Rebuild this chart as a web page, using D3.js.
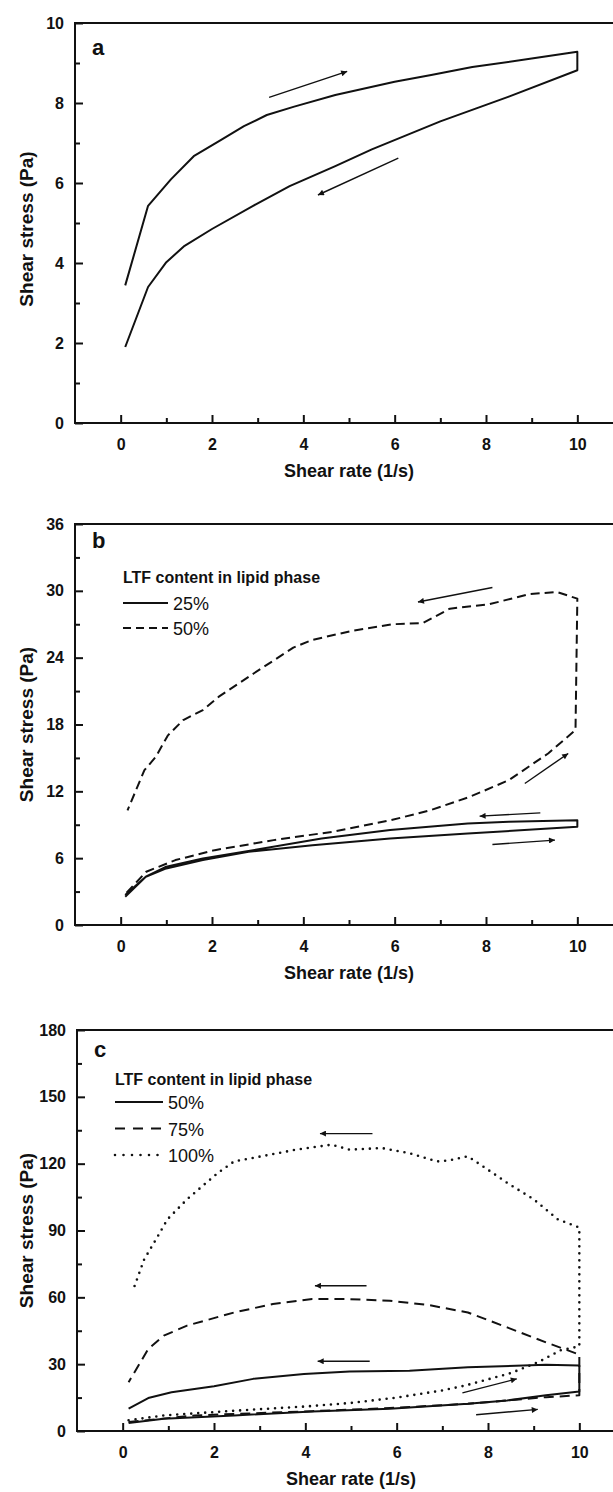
<!DOCTYPE html>
<html>
<head>
<meta charset="utf-8">
<script src="https://cdn.jsdelivr.net/npm/d3@7"></script>
<style>
body { margin: 0; background: #fff; }
svg { display: block; font-family: "Liberation Sans", Arial, sans-serif; }
</style>
</head>
<body>
<svg width="613" height="1492"></svg>
<script>
// ---- data ----
// panel a : one hysteresis loop (up curve, then back down)
var aRate   = [0.1, 0.6, 1.1, 1.6, 2.2, 2.7, 3.2, 3.8, 4.7, 6.0, 6.8, 7.7, 9.0, 10, 10, 8.5, 7.0, 5.5, 4.7, 3.7, 2.9, 2.0, 1.4, 1.0, 0.6, 0.1];
var aStress = [3.44, 5.43, 6.09, 6.67, 7.08, 7.42, 7.7, 7.91, 8.2, 8.53, 8.7, 8.9, 9.11, 9.28, 8.82, 8.16, 7.54, 6.84, 6.42, 5.92, 5.43, 4.85, 4.43, 4.02, 3.4, 1.9];
var aArrows = [[3.25, 8.14, 4.96, 8.79], [6.08, 6.62, 4.32, 5.7]];

// panel b : 25% and 50% LTF
var b25Rate   = [0.1, 0.55, 1.0, 1.8, 2.8, 4.2, 5.9, 7.6, 10, 10, 8.5, 7.6, 5.9, 4.4, 2.9, 1.8, 1.0, 0.55, 0.1];
var b25Stress = [2.54, 4.33, 5.08, 5.83, 6.57, 7.17, 7.77, 8.22, 8.81, 9.41, 9.26, 9.11, 8.52, 7.77, 6.72, 5.98, 5.23, 4.33, 2.69];
var b50Rate   = [0.13, 0.56, 1.2, 2.06, 3.35, 4.64, 5.92, 6.78, 7.64, 8.5, 9.36, 9.96, 10, 9.55, 8.95, 8.07, 7.21, 6.61, 5.95, 5.06, 4.2, 3.78, 3.35, 2.92, 2.15, 1.8, 1.37, 1.03, 0.77, 0.52, 0.15];
var b50Stress = [2.9, 4.78, 5.83, 6.72, 7.62, 8.37, 9.41, 10.3, 11.5, 13.0, 15.4, 17.5, 29.3, 29.9, 29.7, 28.8, 28.4, 27.1, 27.0, 26.4, 25.6, 24.9, 23.75, 22.6, 20.5, 19.3, 18.4, 17.0, 15.1, 13.9, 10.3];
var bArrows = [[8.14, 30.3, 6.51, 29.0], [8.85, 12.7, 9.8, 15.4], [9.19, 10.07, 7.86, 9.77], [8.14, 7.23, 9.51, 7.62]];

// panel c : 50%, 75% and 100% LTF
var c50Rate    = [0.13, 0.9, 2.44, 4.15, 5.85, 7.56, 8.42, 9.27, 10, 10, 9.27, 7.56, 6.28, 4.97, 3.97, 2.86, 2.0, 1.07, 0.56, 0.13];
var c50Stress  = [3.6, 5.5, 7.0, 8.8, 10.0, 12.2, 13.7, 16.0, 17.7, 29.4, 29.7, 28.6, 27.1, 26.7, 25.6, 23.4, 20.1, 17.4, 14.8, 10.0];
var c75Rate    = [0.13, 1.58, 4.15, 5.85, 7.56, 9.27, 10, 10, 9.27, 8.42, 7.56, 6.71, 5.85, 4.97, 4.15, 3.29, 2.44, 1.41, 0.9, 0.56, 0.13];
var c75Stress  = [4.0, 7.0, 8.9, 10.3, 12.2, 15.2, 16.0, 34.3, 39.8, 46.5, 53.2, 56.5, 58.5, 59.2, 59.2, 57.0, 53.2, 47.3, 42.8, 36.8, 21.9];
var c100Rate   = [0.13, 0.9, 2.0, 3.0, 4.0, 5.0, 6.0, 7.0, 7.5, 8.5, 9.1, 9.6, 10, 10, 9.53, 9.0, 8.42, 7.99, 7.56, 7.14, 6.88, 6.28, 5.68, 4.97, 4.57, 3.8, 2.86, 2.44, 2.09, 1.75, 1.41, 0.98, 0.73, 0.47, 0.21];
var c100Stress = [4.8, 7.0, 8.5, 9.8, 11.0, 12.6, 15.0, 18.2, 20.4, 26, 30.9, 36.3, 38, 91.3, 95, 104, 111.4, 117.4, 123.3, 121.4, 121, 124.7, 127, 126.3, 128.5, 126.3, 122.6, 121, 115.9, 110, 104, 95, 86, 77, 62.2];
var cArrows = [[5.47, 133.5, 4.32, 133.5], [5.34, 65.2, 4.21, 65.2], [5.41, 31.3, 4.27, 31.3], [7.44, 17.1, 8.63, 23.4], [7.74, 7.3, 9.09, 9.7]];

var xTicks = [0, 2, 4, 6, 8, 10];
var xMinor = [1, 3, 5, 7, 9];

var svg = d3.select('svg');
var ink = '#111';

svg.append('defs').append('marker')
    .attr('id', 'head')
    .attr('viewBox', '0 0 10 10')
    .attr('refX', 10).attr('refY', 5)
    .attr('markerWidth', 10).attr('markerHeight', 6)
    .attr('markerUnits', 'userSpaceOnUse')
    .attr('orient', 'auto')
  .append('path')
    .attr('d', 'M0,0L10,5L0,10z')
    .attr('fill', ink);

function drawPanel(p) {
  var x = d3.scaleLinear().domain([-1, 11]).range([p.left, p.left + 548]);
  var y = d3.scaleLinear().domain([0, p.yMax]).range([p.bottom, p.top]);
  var g = svg.append('g');

  // frame
  g.append('rect')
      .attr('x', x(-1)).attr('y', y(p.yMax))
      .attr('width', x(11) - x(-1)).attr('height', y(0) - y(p.yMax))
      .attr('fill', 'none').attr('stroke', ink).attr('stroke-width', 2);

  // y axis, ticks point inward
  g.append('g').attr('transform', `translate(${x(-1)},0)`)
      .call(d3.axisLeft(y).tickValues(p.yTicks).tickSize(-8).tickPadding(11));
  g.append('g').attr('transform', `translate(${x(-1)},0)`)
      .call(d3.axisLeft(y).tickValues(p.yMinor).tickSize(-5).tickFormat(''));

  // x axis
  g.append('g').attr('transform', `translate(0,${y(0)})`)
      .call(d3.axisBottom(x).tickValues(xTicks).tickSize(-8).tickPadding(16));
  g.append('g').attr('transform', `translate(0,${y(0)})`)
      .call(d3.axisBottom(x).tickValues(xMinor).tickSize(-5).tickFormat(''));

  g.selectAll('.domain').remove();
  g.selectAll('.tick line').attr('stroke', ink).attr('stroke-width', 2);
  g.selectAll('.tick text')
      .attr('fill', ink)
      .attr('font-size', 16)
      .attr('font-weight', 'bold')
      .attr('font-family', '"Liberation Sans", Arial, sans-serif');

  // axis titles
  g.append('text')
      .attr('x', (x(0) + x(10)) / 2).attr('y', p.bottom + 54)
      .attr('text-anchor', 'middle')
      .attr('font-size', 18).attr('font-weight', 'bold').attr('fill', ink)
      .text('Shear rate (1/s)');
  g.append('text')
      .attr('transform', `translate(33,${(p.top + p.bottom) / 2 + p.titleShift}) rotate(-90)`)
      .attr('text-anchor', 'middle')
      .attr('font-size', 19).attr('font-weight', 'bold').attr('fill', ink)
      .text('Shear stress (Pa)');

  // panel letter
  g.append('text')
      .attr('x', p.left + 17).attr('y', p.top + p.letterDy)
      .attr('font-size', 22).attr('font-weight', 'bold').attr('fill', ink)
      .text(p.letter);

  // curves
  var line = d3.line().x(d => x(d[0])).y(d => y(d[1]));
  p.series.forEach(s => {
    g.append('path')
        .datum(d3.zip(s.rate, s.stress))
        .attr('d', line)
        .attr('fill', 'none')
        .attr('stroke', ink)
        .attr('stroke-width', s.dots ? 2.6 : 2)
        .attr('stroke-linecap', s.dots ? 'round' : 'butt')
        .attr('stroke-linejoin', 'round')
        .attr('stroke-dasharray', s.dash);
  });

  // direction arrows
  g.selectAll('.arrow')
    .data(p.arrows)
    .enter().append('line')
      .attr('x1', d => x(d[0])).attr('y1', d => y(d[1]))
      .attr('x2', d => x(d[2])).attr('y2', d => y(d[3]))
      .attr('stroke', ink).attr('stroke-width', 1.4)
      .attr('marker-end', 'url(#head)');

  // legend
  if (p.legend) {
    var L = p.legend;
    g.append('text')
        .attr('x', L.x).attr('y', L.y)
        .attr('font-size', 16).attr('font-weight', 'bold').attr('fill', ink)
        .text('LTF content in lipid phase');
    p.series.forEach((s, i) => {
      var ly = L.y + L.first + i * L.step;
      g.append('line')
          .attr('x1', L.x).attr('x2', L.x + L.len)
          .attr('y1', ly).attr('y2', ly)
          .attr('stroke', ink)
          .attr('stroke-width', s.dots ? 2.6 : 2)
          .attr('stroke-linecap', s.dots ? 'round' : 'butt')
          .attr('stroke-dasharray', s.legendDash || s.dash);
      g.append('text')
          .attr('x', L.x + L.len + 5).attr('y', ly + 7)
          .attr('font-size', 18).attr('fill', ink)
          .text(s.label);
    });
  }
}

drawPanel({
  letter: 'a', left: 75, top: 23, bottom: 423, yMax: 10, letterDy: 32, titleShift: 6,
  yTicks: [0, 2, 4, 6, 8, 10], yMinor: [1, 3, 5, 7, 9],
  series: [{rate: aRate, stress: aStress, dash: null}],
  arrows: aArrows
});

drawPanel({
  letter: 'b', left: 75, top: 524, bottom: 925, yMax: 36, letterDy: 24, titleShift: 0,
  yTicks: [0, 6, 12, 18, 24, 30, 36], yMinor: [3, 9, 15, 21, 27, 33],
  series: [
    {rate: b25Rate, stress: b25Stress, dash: null, label: '25%'},
    {rate: b50Rate, stress: b50Stress, dash: '9,5', legendDash: '8,5', label: '50%'}
  ],
  arrows: bArrows,
  legend: {x: 123, y: 583, first: 20, step: 25, len: 45}
});

drawPanel({
  letter: 'c', left: 77, top: 1030, bottom: 1431, yMax: 180, letterDy: 27, titleShift: 0,
  yTicks: [0, 30, 60, 90, 120, 150, 180], yMinor: [15, 45, 75, 105, 135, 165],
  series: [
    {rate: c50Rate, stress: c50Stress, dash: null, label: '50%'},
    {rate: c75Rate, stress: c75Stress, dash: '10,6', legendDash: '10,8', label: '75%'},
    {rate: c100Rate, stress: c100Stress, dash: '0,7', legendDash: '0,8.5', dots: true, label: '100%'}
  ],
  arrows: cArrows,
  legend: {x: 115, y: 1085, first: 17, step: 26.5, len: 48}
});
</script>
</body>
</html>
